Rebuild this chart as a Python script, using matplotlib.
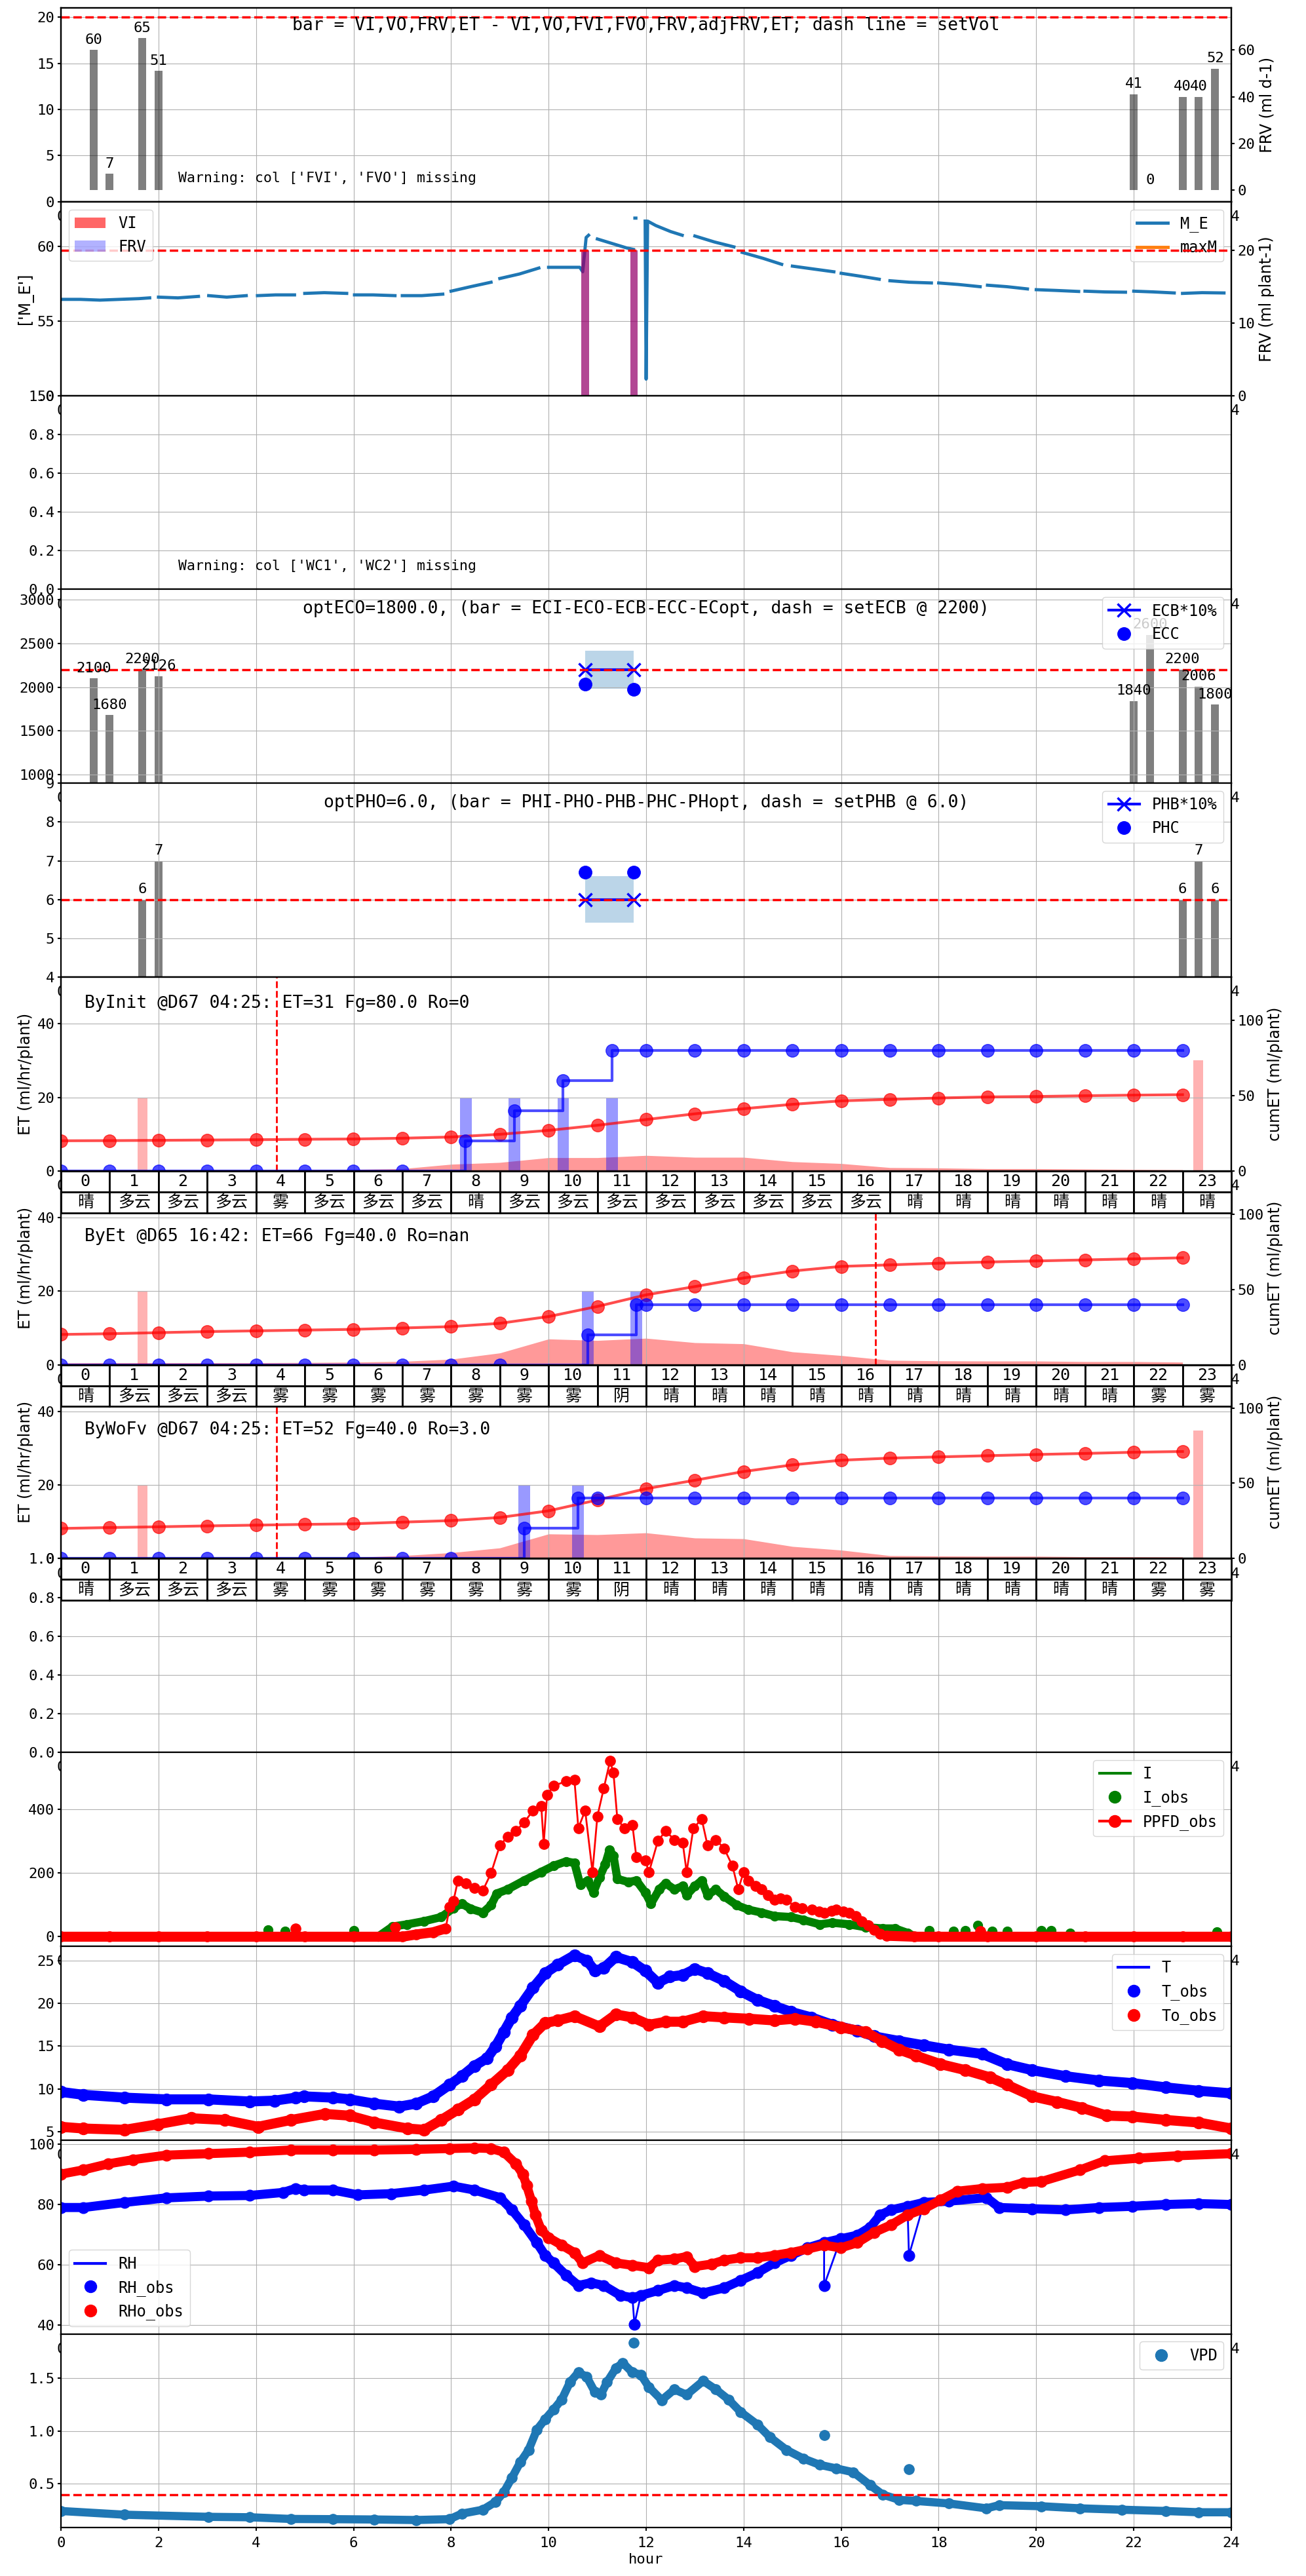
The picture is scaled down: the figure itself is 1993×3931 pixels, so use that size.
import numpy as np
import matplotlib
matplotlib.use("Agg")
import matplotlib.pyplot as plt
from matplotlib.lines import Line2D

plt.rcParams['font.family'] = ['DejaVu Sans Mono', 'Noto Sans CJK SC']
plt.rcParams['axes.unicode_minus'] = False
plt.rcParams['axes.linewidth'] = 1.6
plt.rcParams['xtick.labelsize'] = 16
plt.rcParams['ytick.labelsize'] = 16
plt.rcParams['legend.fontsize'] = 17
plt.rcParams['xtick.major.width'] = 1.5
plt.rcParams['ytick.major.width'] = 1.5
plt.rcParams['xtick.major.pad'] = 6

LABEL_FONT = dict(family='DejaVu Sans', fontsize=17)

# ---------------- data ----------------
hours = list(range(24))

# bar groups (panel 1, ECO, PHO)
bar_hour = [0.67, 1.0, 1.67, 2.0, 22.0, 22.33, 23.0, 23.33, 23.67]
frv_bar = [60, 7, 65, 51, 41, 0, 40, 40, 52]
ec_bar = [2100, 1680, 2200, 2126, 1840, 2600, 2200, 2006, 1800]
ph_hour = [1.67, 2.0, 23.0, 23.33, 23.67]
ph_bar = [6, 7, 6, 7, 6]

# irrigation events
irr_hour = [10.75, 11.75]
vi_bar = [20, 20]
frv_irr = [20, 20]
ecb = [2200, 2200]
ecc = [2037, 1977]
phb = [6.0, 6.0]
phc = [6.7, 6.7]

# M_E (with gaps)
nan = np.nan
me_hour = [0.0, 0.4, 0.8, 1.2, 1.6, 1.82, 1.9,
           2.0, 2.4, 2.82, 2.9,
           3.03, 3.4, 3.8, 3.9,
           4.03, 4.4, 4.79, 4.9,
           5.0, 5.4, 5.86, 5.93,
           6.02, 6.4, 6.85, 6.92,
           7.0, 7.4, 7.83, 7.9,
           8.0, 8.4, 8.82, 8.9,
           9.0, 9.4, 9.8, 9.9,
           10.0, 10.3, 10.64, 10.7, 10.77, 10.82, 10.9,
           11.0, 11.3, 11.6, 11.74, 11.76,
           11.77, 11.79, 11.85,
           11.98, 12.0, 12.03, 12.2, 12.5, 12.74, 12.85,
           13.0, 13.4, 13.8, 13.88,
           13.97, 14.4, 14.78, 14.88,
           15.0, 15.4, 15.85, 15.92,
           16.0, 16.4, 16.78, 16.88,
           17.0, 17.4, 17.85, 17.92,
           18.0, 18.4, 18.85, 18.92,
           19.0, 19.4, 19.82, 19.9,
           20.0, 20.4, 20.87, 20.93,
           21.0, 21.4, 21.83, 21.9,
           22.0, 22.4, 22.83, 22.9,
           23.0, 23.4, 23.85]
me_val = [56.45, 56.45, 56.4, 56.45, 56.5, 56.55, nan,
          56.6, 56.55, 56.65, nan,
          56.7, 56.6, 56.7, nan,
          56.7, 56.75, 56.75, nan,
          56.85, 56.9, 56.85, nan,
          56.75, 56.75, 56.7, nan,
          56.7, 56.7, 56.8, nan,
          57.0, 57.3, 57.6, nan,
          57.85, 58.15, 58.55, nan,
          58.6, 58.6, 58.6, 58.3, 60.6, 60.75, nan,
          60.5, 60.2, 59.9, 59.8, nan,
          61.9, 61.9, nan,
          61.7, 51.1, 61.7, 61.4, 61.0, 60.75, nan,
          60.7, 60.3, 59.97, nan,
          59.6, 59.2, 58.8, nan,
          58.68, 58.5, 58.3, nan,
          58.2, 58.0, 57.8, nan,
          57.7, 57.6, 57.55, nan,
          57.55, 57.45, 57.3, nan,
          57.4, 57.3, 57.15, nan,
          57.1, 57.05, 56.98, nan,
          57.0, 56.95, 56.93, nan,
          57.0, 56.95, 56.88, nan,
          56.85, 56.9, 56.88]

# ET panels
et_fill_init = [0.3, 0.3, 0.3, 0.3, 0.3, 0.35, 0.4, 0.6, 1.8, 2.3, 3.6, 3.6,
                4.2, 3.7, 3.7, 2.5, 2.0, 0.9, 0.8, 0.6, 0.6, 0.5, 0.4, 0.3]
et_fill_et = [0.5, 0.55, 0.55, 0.55, 0.55, 0.6, 0.7, 0.9, 1.5, 3.2, 7.0, 6.6,
              7.2, 6.0, 5.7, 3.5, 2.5, 1.2, 1.05, 1.0, 1.0, 0.85, 0.85, 0.7]
et_fill_wofv = [0.3, 0.3, 0.3, 0.3, 0.3, 0.3, 0.35, 0.8, 1.6, 2.9, 6.7, 6.5,
                7.0, 5.6, 5.4, 3.3, 2.3, 0.8, 0.7, 0.64, 0.64, 0.5, 0.5, 0.45]
cum_init = [20.0, 20.1, 20.3, 20.5, 20.7, 21.0, 21.2, 21.7, 22.5, 24.3, 26.9, 30.3,
            34.1, 37.9, 41.3, 44.2, 46.5, 47.5, 48.4, 49.1, 49.4, 49.9, 50.3, 50.6]
cum_et = [20.1, 20.6, 21.3, 22.0, 22.5, 23.0, 23.5, 24.4, 25.3, 27.5, 32.0, 38.7,
          46.4, 51.9, 57.6, 62.2, 65.3, 66.3, 67.4, 68.2, 68.9, 69.6, 70.3, 71.0]
cum_wofv = [20.0, 20.6, 21.1, 21.7, 22.2, 22.7, 23.1, 24.2, 25.2, 27.3, 31.7, 38.9,
            46.4, 52.0, 57.8, 62.2, 65.3, 66.7, 67.5, 68.3, 69.1, 69.8, 70.6, 71.1]
irr_init_x = [0, 1, 2, 3, 4, 5, 6, 7, 8.29, 9.3, 10.3, 11.3,
              12, 13, 14, 15, 16, 17, 18, 19, 20, 21, 22, 23]
irr_init_y = [0, 0, 0, 0, 0, 0, 0, 0, 20, 40, 60, 80,
              80, 80, 80, 80, 80, 80, 80, 80, 80, 80, 80, 80]
irr_et_x = [0, 1, 2, 3, 4, 5, 6, 7, 8, 9, 10.8, 11.8,
            12, 13, 14, 15, 16, 17, 18, 19, 20, 21, 22, 23]
irr_et_y = [0, 0, 0, 0, 0, 0, 0, 0, 0, 0, 20, 40,
            40, 40, 40, 40, 40, 40, 40, 40, 40, 40, 40, 40]
irr_wofv_x = [0, 1, 2, 3, 4, 5, 6, 7, 8, 9.5, 10.6, 11,
              12, 13, 14, 15, 16, 17, 18, 19, 20, 21, 22, 23]
irr_wofv_y = [0, 0, 0, 0, 0, 0, 0, 0, 0, 20, 40, 40,
              40, 40, 40, 40, 40, 40, 40, 40, 40, 40, 40, 40]
blue_init = [8.3, 9.3, 10.3, 11.3]
blue_et = [10.8, 11.8]
blue_wofv = [9.5, 10.6]
pink_init_x, pink_init_h = [1.67, 23.32], [20, 30.1]
pink_et_x, pink_et_h = [1.67], [20]
pink_wofv_x, pink_wofv_h = [1.67, 23.32], [20, 34.8]
weather_init = ['晴', '多云', '多云', '多云', '雾', '多云', '多云', '多云', '晴', '多云', '多云', '多云',
                '多云', '多云', '多云', '多云', '多云', '晴', '晴', '晴', '晴', '晴', '晴', '晴']
weather_et = ['晴', '多云', '多云', '多云', '雾', '雾', '雾', '雾', '雾', '雾', '雾', '阴',
              '晴', '晴', '晴', '晴', '晴', '晴', '晴', '晴', '晴', '晴', '雾', '雾']
weather_wofv = list(weather_et)

# light
ppfd_hour = [0, 1, 2, 3, 4, 5, 6, 7, 7.28, 7.63, 7.89, 7.97, 8.05, 8.14, 8.3, 8.48, 8.65, 8.82,
             9.0, 9.16, 9.33, 9.5, 9.68, 9.85, 9.9, 9.97, 10.1, 10.36, 10.53, 10.61, 10.75, 10.9,
             11.0, 11.13, 11.26, 11.33, 11.41, 11.55, 11.72, 11.8, 11.98, 12.06, 12.24, 12.4,
             12.58, 12.75, 12.83, 12.97, 13.14, 13.26, 13.43, 13.6, 13.77, 13.89, 14.0, 14.1,
             14.25, 14.37, 14.5, 14.63, 14.75, 14.88, 15.05, 15.2, 15.4, 15.55, 15.65, 15.8, 15.9,
             16.05, 16.16, 16.3, 16.42, 16.55, 16.67, 16.8, 16.93, 17.5, 18, 19, 20, 21, 22, 23, 24]
ppfd = [0, 0, 0, 0, 0, 0, 0, 0, 7, 14, 26, 94, 113, 177, 168, 154, 145, 200,
        287, 315, 333, 360, 397, 411, 292, 447, 475, 489, 493, 342, 397, 204,
        379, 466, 553, 516, 370, 342, 351, 250, 241, 204, 301, 333,
        305, 296, 204, 342, 370, 287, 305, 278, 223, 149, 204, 177,
        160, 149, 130, 117, 120, 117, 94, 90, 85, 80, 76, 82, 85,
        80, 76, 65, 49, 35, 21, 10, 3, 0, 0, 0, 0, 0, 0, 0, 0]
ppfd_blip_hour = [4.81, 6.86, 18.86]
ppfd_blip = [26, 30, 17]
i_hour = [0, 6.5, 6.8, 7.1, 7.45, 7.8, 8.05, 8.22, 8.4, 8.65, 8.82, 8.94, 9.16, 9.5, 9.85,
          10.1, 10.36, 10.53, 10.65, 10.8, 10.92, 11.04, 11.16, 11.25, 11.33, 11.41, 11.64,
          11.8, 11.98, 12.1, 12.27, 12.4, 12.58, 12.75, 12.83, 13.0, 13.14, 13.26, 13.43,
          13.6, 13.86, 14.1, 14.37, 14.63, 14.97, 15.22, 15.56, 15.82, 16.16, 16.5, 16.85,
          17.1, 17.36, 17.53, 24]
i_obs = [0, 0, 32, 39, 49, 62, 90, 104, 88, 76, 99, 136, 149, 177, 204,
         223, 237, 232, 163, 177, 140, 186, 227, 273, 255, 182, 172,
         177, 140, 104, 149, 168, 149, 159, 131, 159, 177, 131, 149,
         127, 99, 85, 76, 65, 62, 53, 39, 44, 39, 30, 26,
         26, 12, 0, 0]
i_blip_hour = [4.25, 4.6, 6.0, 17.8, 18.3, 18.55, 18.8, 19.1, 19.4, 20.1, 20.3, 20.7, 23.7]
i_blip = [21, 18, 20, 20, 18, 20, 35, 18, 18, 20, 20, 12, 15]

# temperature
t_hour = [0, 0.46, 1.31, 2.16, 3.02, 3.87, 4.38, 4.81, 4.98, 5.58, 5.92, 6.43, 6.94, 7.28,
          7.63, 7.97, 8.22, 8.48, 8.74, 8.91, 9.08, 9.25, 9.42, 9.68, 9.93, 10.19, 10.53,
          10.78, 10.95, 11.13, 11.38, 11.72, 11.98, 12.24, 12.49, 12.75, 13.0, 13.26, 13.6,
          13.94, 14.28, 14.63, 14.97, 15.39, 15.82, 16.33, 16.67, 17.19, 17.7, 18.21, 18.89,
          19.4, 19.92, 20.6, 21.28, 21.97, 22.65, 23.33, 24.0]
t_obs = [9.67, 9.33, 9.0, 8.8, 8.8, 8.55, 8.65, 9.0, 9.15, 9.0, 8.8, 8.3, 7.96, 8.3,
         9.15, 10.5, 11.5, 12.7, 13.6, 14.95, 16.65, 18.35, 19.7, 21.8, 23.5, 24.5, 25.6,
         25.0, 23.8, 24.1, 25.4, 24.8, 23.8, 22.4, 23.1, 23.3, 24.0, 23.5, 22.6,
         21.4, 20.4, 19.7, 19.0, 18.35, 17.5, 16.8, 16.15, 15.6, 15.1, 14.6, 14.1,
         12.9, 12.2, 11.5, 11.0, 10.7, 10.2, 9.8, 9.5]
to_hour = [0, 0.46, 1.31, 1.99, 2.67, 3.36, 4.04, 4.72, 5.41, 5.92, 6.43, 7.11, 7.45, 7.8,
           8.14, 8.48, 8.82, 9.16, 9.42, 9.68, 9.93, 10.19, 10.53, 11.04, 11.38, 11.72,
           12.06, 12.4, 12.75, 13.17, 13.6, 14.11, 14.63, 15.05, 15.48, 15.99, 16.5, 16.84,
           17.19, 17.53, 18.04, 18.55, 19.06, 19.4, 19.92, 20.43, 20.94, 21.45, 21.97,
           22.65, 23.33, 24.0]
to_obs = [5.6, 5.4, 5.25, 5.9, 6.6, 6.4, 5.6, 6.4, 7.1, 6.9, 6.1, 5.4, 5.25, 6.4,
          7.6, 8.8, 10.5, 12.2, 13.9, 16.3, 17.7, 18.0, 18.5, 17.3, 18.7, 18.35,
          17.5, 17.85, 17.85, 18.5, 18.35, 18.2, 18.0, 18.2, 17.85, 17.2, 16.65, 15.6,
          14.6, 13.9, 12.9, 12.2, 11.35, 10.5, 9.15, 8.5, 7.8, 6.9, 6.8,
          6.4, 6.1, 5.4]

# humidity
rh_hour = [0, 0.46, 1.31, 2.16, 3.02, 3.87, 4.55, 4.81, 4.98, 5.58, 6.09, 6.77, 7.45, 8.05,
           8.48, 9.0, 9.25, 9.5, 9.76, 9.93, 10.1, 10.36, 10.61, 10.87, 11.13, 11.47, 11.72,
           11.89, 12.24, 12.58, 12.83, 13.17, 13.6, 13.94, 14.28, 14.63, 14.97, 15.31, 15.65,
           15.99, 16.33, 16.6, 16.8, 17.02, 17.36, 17.7, 18.21, 18.98, 19.24, 19.92, 20.6,
           21.28, 21.97, 22.65, 23.33, 24.0]
rh_obs = [79.0, 79.0, 80.7, 82.2, 82.8, 83.0, 84.0, 85.3, 84.8, 84.8, 83.2, 83.6, 84.8, 86.1,
          84.8, 82.3, 78.2, 73.2, 67.3, 63.1, 60.6, 56.5, 53.1, 54.0, 53.1, 49.8, 49.0,
          49.8, 51.4, 53.1, 52.3, 50.6, 52.3, 54.8, 57.3, 60.6, 63.1, 65.6, 67.3,
          68.6, 69.8, 72.5, 76.5, 78.2, 79.4, 80.7, 81.1, 82.3, 79.0, 78.6, 78.2,
          79.0, 79.4, 80.0, 80.3, 80.0]
rh_dip_hour = [11.76, 15.65, 17.39]
rh_dip = [40.2, 53.1, 63.1]
rho_hour = [0, 0.46, 0.97, 1.48, 2.16, 3.02, 3.87, 4.72, 5.58, 6.43, 7.28, 7.97, 8.48, 8.82,
            9.08, 9.33, 9.47, 9.55, 9.65, 9.73, 9.85, 10.0, 10.27, 10.53, 10.7, 11.04, 11.38,
            11.72, 12.06, 12.24, 12.58, 12.83, 13.0, 13.34, 13.6, 13.94, 14.28, 14.63, 14.97,
            15.31, 15.65, 15.99, 16.33, 16.67, 17.02, 17.36, 17.7, 18.04, 18.38, 18.89, 19.4,
            19.74, 20.1, 20.9, 21.4, 22.1, 22.9, 24.0]
rho_obs = [90.1, 91.5, 93.5, 94.9, 96.4, 96.9, 97.4, 98.1, 98.1, 98.1, 98.3, 98.6, 98.8, 98.6,
           97.4, 93.5, 90.1, 86.4, 81.1, 76.5, 71.5, 69.0, 66.5, 64.0, 60.6, 63.1, 60.6,
           59.8, 59.0, 61.5, 61.9, 62.7, 59.4, 60.2, 61.5, 62.3, 62.3, 63.1, 64.0,
           65.2, 66.5, 65.6, 67.3, 70.7, 73.2, 76.5, 78.6, 81.5, 84.4, 85.3, 85.7,
           87.3, 87.6, 91.5, 94.5, 95.4, 96.2, 96.9]

# VPD
vpd_hour = [0, 1.31, 3.02, 3.87, 4.72, 5.58, 6.43, 7.28, 7.97, 8.22, 8.65, 8.91, 9.08, 9.25,
            9.42, 9.59, 9.76, 9.93, 10.1, 10.27, 10.44, 10.61, 10.78, 10.95, 11.07, 11.2,
            11.38, 11.52, 11.72, 11.89, 12.06, 12.32, 12.58, 12.83, 13.17, 13.43, 13.69,
            13.94, 14.28, 14.54, 14.88, 15.22, 15.56, 15.9, 16.25, 16.59, 16.85, 17.19,
            17.53, 18.21, 18.98, 19.24, 20.1, 20.9, 21.76, 22.65, 23.33, 24.0]
vpd = [0.245, 0.21, 0.19, 0.186, 0.17, 0.168, 0.165, 0.16, 0.168, 0.22, 0.257, 0.33, 0.42,
       0.56, 0.705, 0.82, 1.01, 1.11, 1.2, 1.295, 1.46, 1.55, 1.51, 1.365, 1.34, 1.46,
       1.59, 1.64, 1.55, 1.53, 1.41, 1.29, 1.39, 1.34, 1.47, 1.39, 1.295,
       1.177, 1.06, 0.94, 0.82, 0.74, 0.68, 0.646, 0.61, 0.49, 0.40, 0.35,
       0.34, 0.316, 0.27, 0.30, 0.29, 0.27, 0.257, 0.245, 0.233, 0.233]
vpd_out_hour = [11.74, 15.65, 17.39]
vpd_out = [1.83, 0.958, 0.64]

# ---------------- figure ----------------
fig = plt.figure(figsize=(19.93, 39.31), dpi=100)
LEFT, WIDTH = 93 / 1993, 1786 / 1993
TOP, H = 1 - 12 / 3931, 295.8 / 3931


def panel(i):
    ax = fig.add_axes([LEFT, TOP - (i + 1) * H, WIDTH, H])
    ax.set_xlim(0, 24)
    ax.set_xticks(range(0, 25, 2))
    ax.grid(True)
    return ax


def label_bars(ax, xs, vs):
    for x, v in zip(xs, vs):
        ax.annotate('{:.0f}'.format(v), (x, v), xytext=(0, 4), textcoords='offset points',
                    ha='center', va='bottom', fontsize=16)


def band(ax, x, y, color, lw, ms):
    ax.plot(x, y, color=color, lw=lw, solid_capstyle='round', solid_joinstyle='round')
    ax.plot(x, y, 'o', color=color, ms=ms)


# 1: volumes
ax = panel(0)
ax.set_ylim(0, 21)
ax.set_yticks([0, 5, 10, 15, 20])
ax.axhline(20, color='r', ls='--', lw=2.5)
ax.text(0.5, 0.91, 'bar = VI,VO,FRV,ET - VI,VO,FVI,FVO,FRV,adjFRV,ET; dash line = setVol',
        transform=ax.transAxes, ha='center', va='center', fontsize=19)
ax.text(0.1, 0.1, "Warning: col ['FVI', 'FVO'] missing", transform=ax.transAxes, fontsize=15.5)
axr = ax.twinx()
axr.bar(bar_hour, frv_bar, width=0.16, color='k', alpha=0.5)
label_bars(axr, bar_hour, frv_bar)
axr.set_ylim(-4.9, 78)
axr.set_yticks([0, 20, 40, 60])
axr.set_ylabel('FRV (ml d-1)', **LABEL_FONT)

# 2: M_E
ax = panel(1)
ax.plot(me_hour, me_val, color='tab:blue', lw=3.5, label='M_E')
ax.plot([], [], color='tab:orange', lw=3.5, label='maxM')
ax.set_ylim(50, 63)
ax.set_yticks([50, 55, 60])
ax.set_ylabel("['M_E']", **LABEL_FONT)
ax.legend(loc='upper right')
axr = ax.twinx()
axr.bar(irr_hour, vi_bar, width=0.15, color='r', alpha=0.6, label='VI')
axr.bar(irr_hour, frv_irr, width=0.15, color='b', alpha=0.3, label='FRV')
axr.axhline(20, color='r', ls='--', lw=2.5)
axr.set_ylim(0, 26.7)
axr.set_yticks([0, 10, 20])
axr.set_ylabel('FRV (ml plant-1)', **LABEL_FONT)
axr.legend(loc='upper left')

# 3: WC (missing)
ax = panel(2)
ax.text(0.1, 0.1, "Warning: col ['WC1', 'WC2'] missing", transform=ax.transAxes, fontsize=15.5)

# 4: EC
ax = panel(3)
ax.bar(bar_hour, ec_bar, width=0.16, color='k', alpha=0.5)
label_bars(ax, bar_hour, ec_bar)
ax.fill_between(irr_hour, np.array(ecb) * 0.9, np.array(ecb) * 1.1, color='tab:blue', alpha=0.3, lw=0)
ax.plot(irr_hour, ecb, color='b', marker='x', ms=14, mew=2.5, lw=3, label='ECB*10%')
ax.plot(irr_hour, ecc, 'o', color='b', ms=14, label='ECC')
ax.axhline(2200, color='r', ls='--', lw=2.5)
ax.set_ylim(902, 3119)
ax.set_yticks([1000, 1500, 2000, 2500, 3000])
ax.text(0.5, 0.9, 'optECO=1800.0, (bar = ECI-ECO-ECB-ECC-ECopt, dash = setECB @ 2200)',
        transform=ax.transAxes, ha='center', va='center', fontsize=19)
ax.legend(loc='upper right')

# 5: PH
ax = panel(4)
ax.bar(ph_hour, ph_bar, width=0.16, color='k', alpha=0.5)
label_bars(ax, ph_hour, ph_bar)
ax.fill_between(irr_hour, np.array(phb) * 0.9, np.array(phb) * 1.1, color='tab:blue', alpha=0.3, lw=0)
ax.plot(irr_hour, phb, color='b', marker='x', ms=14, mew=2.5, lw=3, label='PHB*10%')
ax.plot(irr_hour, phc, 'o', color='b', ms=14, label='PHC')
ax.axhline(6.0, color='r', ls='--', lw=2.5)
ax.set_ylim(4, 9)
ax.text(0.5, 0.9, 'optPHO=6.0, (bar = PHI-PHO-PHB-PHC-PHopt, dash = setPHB @ 6.0)',
        transform=ax.transAxes, ha='center', va='center', fontsize=19)
ax.legend(loc='upper right')

# 6-8: ET panels
et_panels = [
    ('ByInit @D67 04:25: ET=31 Fg=80.0 Ro=0', 0.864, 4.417, et_fill_init, cum_init,
     irr_init_x, irr_init_y, blue_init, pink_init_x, pink_init_h, weather_init, 3),
    ('ByEt @D65 16:42: ET=66 Fg=40.0 Ro=nan', 0.661, 16.7, et_fill_et, cum_et,
     irr_et_x, irr_et_y, blue_et, pink_et_x, pink_et_h, weather_et, 2),
    ('ByWoFv @D67 04:25: ET=52 Fg=40.0 Ro=3.0', 0.664, 4.417, et_fill_wofv, cum_wofv,
     irr_wofv_x, irr_wofv_y, blue_wofv, pink_wofv_x, pink_wofv_h, weather_wofv, 1),
]
for k, (title, ty, vline, fill, cum, sx, sy, bx, px, ph, weather, z) in enumerate(et_panels):
    ax = panel(5 + k)
    ax.fill_between(hours, 0, fill, color='r', alpha=0.4, lw=0)
    ax.bar(px, ph, width=0.2, color='r', alpha=0.3)
    ax.bar(bx, [20] * len(bx), width=0.24, color='b', alpha=0.4)
    ax.axvline(vline, color='r', ls='--', lw=2)
    ax.set_ylim(0, 52.7)
    ax.set_yticks([0, 20, 40])
    ax.set_ylabel('ET (ml/hr/plant)', **LABEL_FONT)
    ax.text(0.02, ty, title, transform=ax.transAxes, va='center', fontsize=19)
    tb = ax.table(cellText=[[str(h) for h in hours], weather], cellLoc='center',
                  bbox=[0, -0.216, 1, 0.216])
    tb.auto_set_font_size(False)
    tb.set_fontsize(18)
    tb.set_zorder(10)
    for cell in tb.get_celld().values():
        cell.set_linewidth(2)
    axr = ax.twinx()
    axr.plot(hours, cum, 'o-', color='r', alpha=0.7, lw=3, ms=14)
    axr.plot(sx, sy, 'o-', color='b', alpha=0.7, lw=3, ms=14, drawstyle='steps-post')
    axr.set_ylim(0, 128.7)
    axr.set_yticks([0, 50, 100])
    axr.set_ylabel('cumET (ml/plant)', **LABEL_FONT)
    ax.set_zorder(z)
    axr.set_zorder(z)

# 9: empty
ax = panel(8)

# 10: light
ax = panel(9)
ax.plot(i_hour, i_obs, color='g', lw=2)
band(ax, i_hour, i_obs, 'g', 9, 10)
ax.plot(i_blip_hour, i_blip, 'o', color='g', ms=10)
ph_arr = np.array(ppfd_hour)
pp_arr = np.array(ppfd)
ax.plot(ph_arr[ph_arr <= 7.9], pp_arr[ph_arr <= 7.9], color='r', lw=11, solid_capstyle='round')
ax.plot(ph_arr[ph_arr >= 16.9], pp_arr[ph_arr >= 16.9], color='r', lw=11, solid_capstyle='round')
ax.plot(ppfd_hour, ppfd, color='r', lw=2, marker='o', ms=11)
ax.plot(ppfd_blip_hour, ppfd_blip, 'o', color='r', ms=11)
ax.set_ylim(-30, 580)
ax.set_yticks([0, 200, 400])
ax.legend(handles=[Line2D([], [], color='g', lw=3, label='I'),
                   Line2D([], [], color='g', marker='o', ls='none', ms=13, label='I_obs'),
                   Line2D([], [], color='r', lw=3, marker='o', ms=13, label='PPFD_obs')],
          loc='upper right')

# 11: temperature
ax = panel(10)
ax.plot(t_hour, t_obs, color='b', lw=2)
band(ax, t_hour, t_obs, 'b', 11, 13)
band(ax, to_hour, to_obs, 'r', 11, 13)
ax.set_ylim(4.05, 26.65)
ax.set_yticks([5, 10, 15, 20, 25])
ax.legend(handles=[Line2D([], [], color='b', lw=3, label='T'),
                   Line2D([], [], color='b', marker='o', ls='none', ms=13, label='T_obs'),
                   Line2D([], [], color='r', marker='o', ls='none', ms=13, label='To_obs')],
          loc='upper right')

# 12: humidity
ax = panel(11)
rh_all_x = np.concatenate([rh_hour, rh_dip_hour])
rh_all_y = np.concatenate([rh_obs, rh_dip])
order = np.argsort(rh_all_x)
ax.plot(rh_all_x[order], rh_all_y[order], color='b', lw=2)
band(ax, rh_hour, rh_obs, 'b', 10, 12)
ax.plot(rh_dip_hour, rh_dip, 'o', color='b', ms=12)
band(ax, rho_hour, rho_obs, 'r', 10, 12)
ax.set_ylim(37, 101.4)
ax.set_yticks([40, 60, 80, 100])
ax.legend(handles=[Line2D([], [], color='b', lw=3, label='RH'),
                   Line2D([], [], color='b', marker='o', ls='none', ms=13, label='RH_obs'),
                   Line2D([], [], color='r', marker='o', ls='none', ms=13, label='RHo_obs')],
          loc='lower left')

# 13: VPD
ax = panel(12)
band(ax, vpd_hour, vpd, 'tab:blue', 9, 11)
ax.plot(vpd_out_hour, vpd_out, 'o', color='tab:blue', ms=11)
ax.axhline(0.4, color='r', ls='--', lw=2.5)
ax.set_ylim(0.087, 1.913)
ax.set_yticks([0.5, 1.0, 1.5])
ax.legend(handles=[Line2D([], [], color='tab:blue', marker='o', ls='none', ms=13, label='VPD')],
          loc='upper right')
ax.set_xlabel('hour', fontsize=16)

fig.savefig('out.png', dpi=100)
